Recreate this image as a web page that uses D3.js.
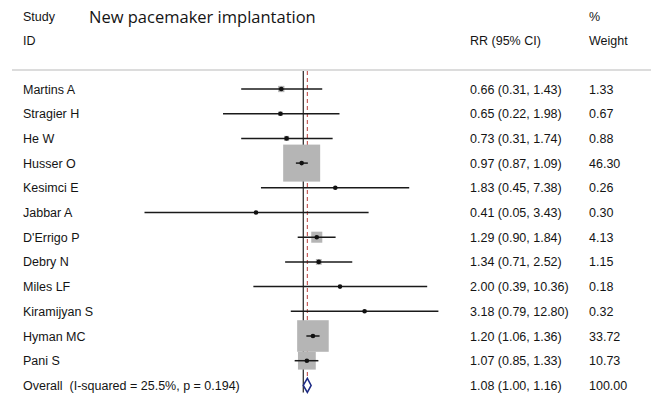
<!DOCTYPE html>
<html>
<head>
<meta charset="utf-8">
<script src="https://cdn.jsdelivr.net/npm/d3@7"></script>
<style>
  html, body { margin: 0; padding: 0; background: #fff; }
  svg { display: block; }
  text { font-family: "Liberation Sans", Arial, sans-serif; font-size: 12.5px; fill: #141414; white-space: pre; }
  .title { font-family: "Open Sans", "Noto Sans", sans-serif; font-size: 16.5px; fill: #141414; }
</style>
</head>
<body>
<svg id="chart" width="657" height="395"></svg>
<script>
// Study-level relative risks for new pacemaker implantation
const studies = ["Martins A", "Stragier H", "He W", "Husser O", "Kesimci E", "Jabbar A",
  "D'Errigo P", "Debry N", "Miles LF", "Kiramijyan S", "Hyman MC", "Pani S"];
const rr    = [0.66, 0.65, 0.73, 0.97, 1.83, 0.41, 1.29, 1.34, 2.00, 3.18, 1.20, 1.07];
const lower = [0.31, 0.22, 0.31, 0.87, 0.45, 0.05, 0.90, 0.71, 0.39, 0.79, 1.06, 0.85];
const upper = [1.43, 1.98, 1.74, 1.09, 7.38, 3.43, 1.84, 2.52, 10.36, 12.80, 1.36, 1.33];
const weight = [1.33, 0.67, 0.88, 46.30, 0.26, 0.30, 4.13, 1.15, 0.18, 0.32, 33.72, 10.73];

// Pooled estimate
const overallLabel = "Overall  (I-squared = 25.5%, p = 0.194)";
const overall = { rr: 1.08, lower: 1.00, upper: 1.16, weight: 100.00 };

const titleText = "New pacemaker implantation";
const headerLeft = ["Study", "ID"];
const headerMid = "RR (95% CI)";
const headerRight = ["%", "Weight"];

const svg = d3.select("#chart");
const fmt = d3.format(".2f");

const rows = studies.concat([overallLabel]);
const y = d3.scalePoint().domain(rows).range([89, 385.4]);

const x = d3.scaleLog().domain([0.05, 12.8]).range([144.5, 438.4]);

// box side grows with the square root of the weight
const side = d3.scaleSqrt().domain([0, 46.30]).range([0, 37]);

// header
svg.append("text").attr("x", 23).attr("y", 21).text(headerLeft[0]);
svg.append("text").attr("x", 23).attr("y", 45).text(headerLeft[1]);
svg.append("text").attr("class", "title").attr("x", 89).attr("y", 23).text(titleText);
svg.append("text").attr("x", 470).attr("y", 45).text(headerMid);
svg.append("text").attr("x", 589).attr("y", 21).text(headerRight[0]);
svg.append("text").attr("x", 589).attr("y", 45).text(headerRight[1]);

svg.append("line")
  .attr("x1", 12).attr("x2", 651).attr("y1", 70).attr("y2", 70)
  .attr("stroke", "#dcdcdc").attr("stroke-width", 2);

const yTop = y(rows[0]) - 18;
const yo = y(overallLabel);

// line of no effect
svg.append("line")
  .attr("x1", x(1)).attr("x2", x(1)).attr("y1", yTop).attr("y2", yo + 7)
  .attr("stroke", "#222").attr("stroke-width", 1.2);

// pooled estimate line
svg.append("line")
  .attr("x1", x(overall.rr)).attr("x2", x(overall.rr)).attr("y1", yTop).attr("y2", yo - 9)
  .attr("stroke", "#c0504d").attr("stroke-width", 1.1).attr("stroke-dasharray", "4,3");

const data = studies.map((s, i) => ({ s, rr: rr[i], lo: lower[i], hi: upper[i], w: weight[i] }));

// weight boxes
svg.append("g").selectAll("rect").data(data).join("rect")
  .attr("x", d => x(d.rr) - side(d.w) / 2)
  .attr("y", d => y(d.s) - side(d.w) / 2)
  .attr("width", d => side(d.w))
  .attr("height", d => side(d.w))
  .attr("fill", "#b5b5b5");

// confidence intervals
svg.append("g").selectAll("line").data(data).join("line")
  .attr("x1", d => x(d.lo)).attr("x2", d => x(d.hi))
  .attr("y1", d => y(d.s)).attr("y2", d => y(d.s))
  .attr("stroke", "#1a1a1a").attr("stroke-width", 1.5);

// point estimates
svg.append("g").selectAll("circle").data(data).join("circle")
  .attr("cx", d => x(d.rr)).attr("cy", d => y(d.s)).attr("r", 2.3)
  .attr("fill", "#111");

// pooled diamond
svg.append("path")
  .attr("d", `M${x(overall.lower)},${yo} L${x(overall.rr)},${yo - 7} L${x(overall.upper)},${yo} L${x(overall.rr)},${yo + 7} Z`)
  .attr("fill", "#fff").attr("stroke", "#1c2a85").attr("stroke-width", 1.5);

// row labels and values
const allRows = data.map(d => ({ label: d.s, rr: d.rr, lo: d.lo, hi: d.hi, w: d.w }))
  .concat([{ label: overallLabel, rr: overall.rr, lo: overall.lower, hi: overall.upper, w: overall.weight }]);

const g = svg.append("g");
g.selectAll("text.lab").data(allRows).join("text").attr("class", "lab")
  .attr("x", 23).attr("y", d => y(d.label) + 4.5)
  .text(d => d.label);
g.selectAll("text.ci").data(allRows).join("text").attr("class", "ci")
  .attr("x", 470).attr("y", d => y(d.label) + 4.5)
  .text(d => `${fmt(d.rr)} (${fmt(d.lo)}, ${fmt(d.hi)})`);
g.selectAll("text.wt").data(allRows).join("text").attr("class", "wt")
  .attr("x", 589).attr("y", d => y(d.label) + 4.5)
  .text(d => fmt(d.w));
</script>
</body>
</html>
